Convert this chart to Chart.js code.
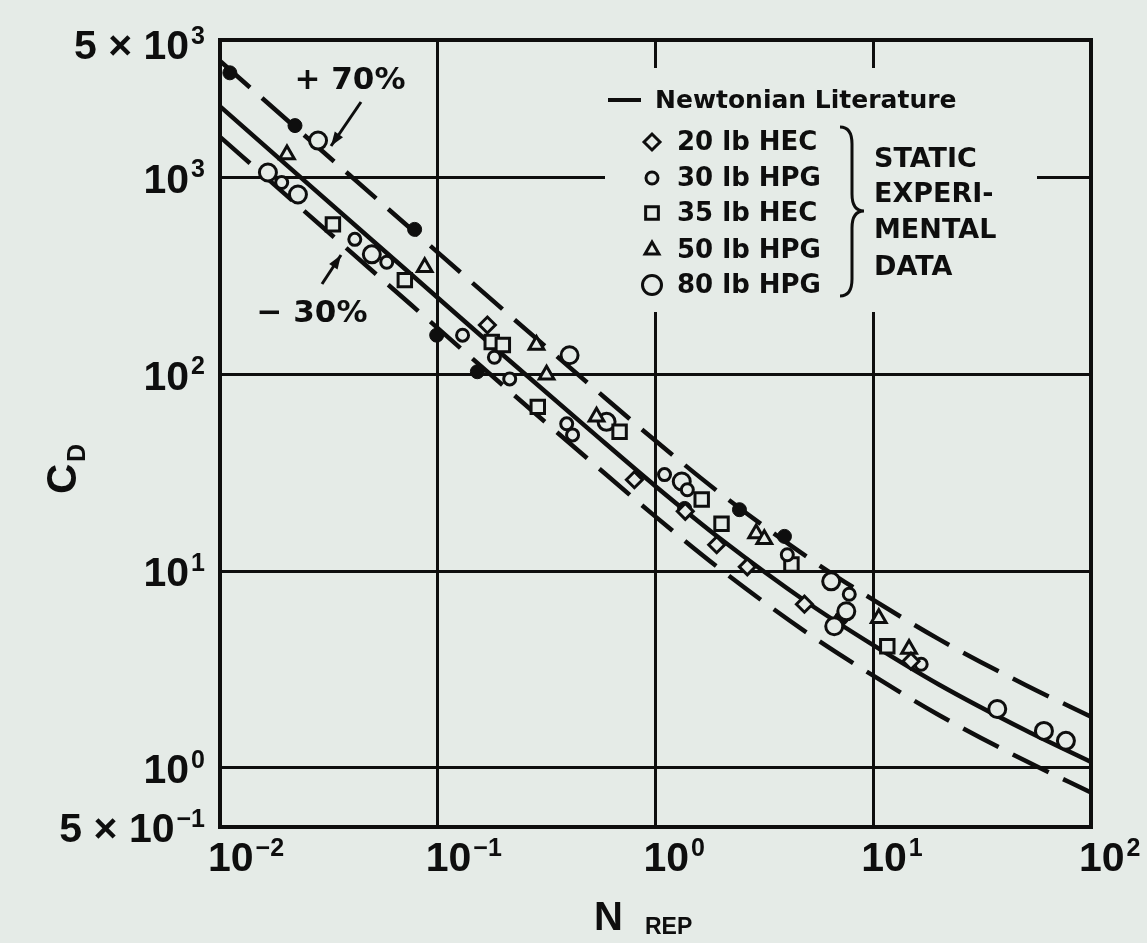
<!DOCTYPE html>
<html>
<head>
<meta charset="utf-8">
<title>C_D vs N_REP</title>
<script src="https://cdn.jsdelivr.net/npm/chart.js@4.4.1/dist/chart.umd.min.js"></script>
<style>
  html, body { margin: 0; padding: 0; background: #e5ebe7; }
  #wrap { position: relative; width: 1147px; height: 943px; }
</style>
</head>
<body>
<div id="wrap"><canvas id="cdChart"></canvas></div>
<script>
const paper = '#e5ebe7';
const ink = '#0e0e0e';

// Newtonian literature drag curve
const newtonN  = [0.01, 0.02, 0.05, 0.1, 0.2, 0.5, 1, 2, 5, 10, 20, 50, 100];
const newtonCD = [2300, 1170, 480, 245, 125, 52, 27, 14.5, 6.9, 4.2, 2.65, 1.55, 1.07];
const upperBand = 1.70;   // +70%
const lowerBand = 0.70;   // -30%

// static experimental data
const hec20N  = [0.169, 0.80, 1.37, 1.91, 2.64, 4.83, 14.9];
const hec20CD = [178, 29.1, 20.1, 13.6, 10.5, 6.78, 3.48];

const hpg30N  = [0.0192, 0.0416, 0.0583, 0.130, 0.182, 0.214, 0.391, 0.416, 1.10, 1.40, 4.03, 7.76, 16.6];
const hpg30CD = [943, 485, 371, 158, 122, 94.7, 56.0, 49.2, 30.9, 25.9, 12.1, 7.62, 3.36];

const hec35N  = [0.033, 0.0706, 0.177, 0.199, 0.288, 0.684, 1.63, 2.01, 4.21, 11.6];
const hec35CD = [578, 301, 146, 141, 68.3, 51.0, 23.1, 17.4, 10.8, 4.15];

const hpg50N  = [0.0203, 0.0871, 0.284, 0.316, 0.536, 2.90, 3.16, 10.6, 14.6];
const hpg50CD = [1309, 350, 141, 99.3, 60.8, 15.5, 14.5, 5.75, 4.01];

const hpg80N  = [0.0166, 0.0228, 0.0282, 0.0498, 0.403, 0.596, 1.32, 6.41, 6.62, 7.52, 37.1, 60.8, 76.7];
const hpg80CD = [1060, 820, 1541, 407, 125, 57.3, 28.5, 8.86, 5.24, 6.24, 1.99, 1.54, 1.37];

// solid (blacked-out) points
const filledN  = [0.0111, 0.0221, 0.0783, 0.0989, 0.152, 1.36, 2.43, 3.91, 7.13];
const filledCD = [3405, 1836, 545, 158, 103, 20.8, 20.5, 15.0, 5.75];

const seriesLabels = ['20 lb HEC', '30 lb HPG', '35 lb HEC', '50 lb HPG', '80 lb HPG'];
const seriesShapes = ['rectRot', 'circle', 'rect', 'triangle', 'circle'];
const seriesSizes  = [8, 6, 9.5, 8.5, 8.5];
const seriesData   = [[hec20N, hec20CD], [hpg30N, hpg30CD], [hec35N, hec35CD], [hpg50N, hpg50CD], [hpg80N, hpg80CD]];

const xTickValues = [0.01, 0.1, 1, 10, 100];
const xTickLabels = [['10', '\u22122'], ['10', '\u22121'], ['10', '0'], ['10', '1'], ['10', '2']];
const yTickValues = [5000, 1000, 100, 10, 1, 0.5];
const yTickLabels = [['5 \u00d7 10', '3'], ['10', '3'], ['10', '2'], ['10', '1'], ['10', '0'], ['5 \u00d7 10', '\u22121']];

const legendTitle = 'Newtonian Literature';
const bracketText = ['STATIC', 'EXPERI-', 'MENTAL', 'DATA'];

function pts(xs, ys) {
  return xs.map(function (x, i) { return { x: x, y: ys[i] }; });
}

const datasets = seriesData.map(function (d, i) {
  return {
    label: seriesLabels[i],
    data: pts(d[0], d[1]),
    showLine: false,
    pointStyle: seriesShapes[i],
    pointRadius: seriesSizes[i],
    pointBackgroundColor: paper,
    pointBorderColor: ink,
    pointBorderWidth: 3,
    order: 1
  };
});

datasets.push({
  label: 'solid points',
  data: pts(filledN, filledCD),
  showLine: false,
  pointStyle: 'circle',
  pointRadius: 7,
  pointBackgroundColor: ink,
  pointBorderColor: ink,
  pointBorderWidth: 1,
  order: 1
});

function curve(label, factor, dash) {
  return {
    label: label,
    data: pts(newtonN, newtonCD.map(function (v) { return v * factor; })),
    showLine: true,
    borderColor: ink,
    borderWidth: 4.5,
    borderDash: dash,
    cubicInterpolationMode: 'monotone',
    pointRadius: 0,
    order: 2
  };
}
datasets.push(curve(legendTitle, 1, []));
datasets.push(curve('+70%', upperBand, [40, 16]));
datasets.push(curve('-30%', lowerBand, [40, 16]));

function supLabel(ctx, base, exp, x, y, align) {
  const baseFont = 'bold 41px "Liberation Sans", Arial, sans-serif';
  const expFont = 'bold 25px "Liberation Sans", Arial, sans-serif';
  ctx.font = baseFont;
  const bw = ctx.measureText(base).width;
  ctx.font = expFont;
  const ew = ctx.measureText(exp).width;
  const left = align === 'right' ? x - bw - ew - 2 : x;
  ctx.textAlign = 'left';
  ctx.textBaseline = 'middle';
  ctx.font = baseFont;
  ctx.fillText(base, left, y);
  ctx.font = expFont;
  ctx.fillText(exp, left + bw + 2, y - 11);
}

function arrow(ctx, x1, y1, x2, y2) {
  ctx.beginPath();
  ctx.moveTo(x1, y1);
  ctx.lineTo(x2, y2);
  ctx.lineWidth = 3;
  ctx.stroke();
  const a = Math.atan2(y2 - y1, x2 - x1);
  ctx.beginPath();
  ctx.moveTo(x2, y2);
  ctx.lineTo(x2 - 14 * Math.cos(a) + 5 * Math.sin(a), y2 - 14 * Math.sin(a) - 5 * Math.cos(a));
  ctx.lineTo(x2 - 14 * Math.cos(a) - 5 * Math.sin(a), y2 - 14 * Math.sin(a) + 5 * Math.cos(a));
  ctx.closePath();
  ctx.fill();
}

const paperPlugin = {
  id: 'paper',
  beforeDraw(chart) {
    const ctx = chart.ctx;
    ctx.save();
    ctx.fillStyle = paper;
    ctx.fillRect(0, 0, chart.width, chart.height);
    ctx.restore();
  },
  afterDatasetsDraw(chart) {
    const ctx = chart.ctx;
    const area = chart.chartArea;
    ctx.save();
    ctx.strokeStyle = ink;

    // legend panel blanks the grid behind it
    ctx.fillStyle = paper;
    ctx.fillRect(605, 68, 432, 244);
    ctx.fillStyle = ink;

    ctx.beginPath();
    ctx.moveTo(608, 100);
    ctx.lineTo(641, 100);
    ctx.lineWidth = 4;
    ctx.stroke();
    ctx.font = 'bold 25px "DejaVu Sans", sans-serif';
    ctx.textAlign = 'left';
    ctx.textBaseline = 'middle';
    ctx.fillText(legendTitle, 655, 101);

    const rows = [142, 178, 213, 250, 285];
    const legendSizes = [8, 6, 9, 8, 9.5];
    seriesLabels.forEach(function (label, i) {
      ctx.fillStyle = paper;
      ctx.strokeStyle = ink;
      ctx.lineWidth = 3;
      Chart.helpers.drawPoint(ctx, {
        pointStyle: seriesShapes[i], radius: legendSizes[i], borderWidth: 3, rotation: 0
      }, 652, rows[i]);
      ctx.fillStyle = ink;
      ctx.font = 'bold 26px "DejaVu Sans", sans-serif';
      ctx.fillText(label, 677, rows[i] + 1);
    });

    // brace grouping the experimental series
    ctx.beginPath();
    ctx.moveTo(840, 127);
    ctx.quadraticCurveTo(852, 127, 852, 144);
    ctx.lineTo(852, 194);
    ctx.quadraticCurveTo(852, 211, 864, 211);
    ctx.quadraticCurveTo(852, 211, 852, 228);
    ctx.lineTo(852, 279);
    ctx.quadraticCurveTo(852, 296, 840, 296);
    ctx.lineWidth = 3;
    ctx.stroke();

    ctx.font = 'bold 27px "DejaVu Sans", sans-serif';
    const by = [160, 195, 231, 268];
    bracketText.forEach(function (t, i) { ctx.fillText(t, 874, by[i]); });

    // plot frame
    ctx.lineWidth = 4;
    ctx.strokeRect(area.left, area.top, area.right - area.left, area.bottom - area.top);
    ctx.restore();
  },
  afterDraw(chart) {
    const ctx = chart.ctx;
    const xs = chart.scales.x;
    const ys = chart.scales.y;
    ctx.save();
    ctx.fillStyle = ink;
    ctx.strokeStyle = ink;

    yTickValues.forEach(function (v, i) {
      const shift = i === 0 ? 8 : 4;
      supLabel(ctx, yTickLabels[i][0], yTickLabels[i][1], 205, ys.getPixelForValue(v) + shift, 'right');
    });
    xTickValues.forEach(function (v, i) {
      supLabel(ctx, xTickLabels[i][0], xTickLabels[i][1], xs.getPixelForValue(v) - 12, 860, 'left');
    });

    // axis titles
    ctx.textAlign = 'left';
    ctx.textBaseline = 'alphabetic';
    ctx.font = 'bold 40px "Liberation Sans", Arial, sans-serif';
    ctx.fillText('N', 594, 930);
    ctx.font = 'bold 23px "Liberation Sans", Arial, sans-serif';
    ctx.fillText('REP', 645, 934);

    ctx.save();
    ctx.translate(76, 494);
    ctx.rotate(-Math.PI / 2);
    ctx.font = 'bold 42px "Liberation Sans", Arial, sans-serif';
    ctx.fillText('C', 0, 0);
    ctx.font = 'bold 25px "Liberation Sans", Arial, sans-serif';
    ctx.fillText('D', 32, 9);
    ctx.restore();

    // band annotations
    ctx.font = 'bold 31px "DejaVu Sans", sans-serif';
    ctx.textAlign = 'center';
    ctx.textBaseline = 'middle';
    ctx.fillText('+ 70%', 350, 81);
    ctx.fillText('\u2212 30%', 312, 314);
    arrow(ctx, 361, 102, 331, 146);
    arrow(ctx, 322, 284, 341, 255);
    ctx.restore();
  }
};

function onlyTicks(values) {
  return function (scale) {
    scale.ticks = values.map(function (v) { return { value: v }; });
  };
}

new Chart('cdChart', {
  type: 'scatter',
  data: { datasets: datasets },
  options: {
    responsive: true,
    maintainAspectRatio: false,
    animation: false,
    layout: { padding: { left: 220, top: 40, right: 56, bottom: 116 } },
    plugins: {
      legend: { display: false },
      tooltip: { enabled: false }
    },
    scales: {
      x: {
        type: 'logarithmic',
        min: 0.01,
        max: 100,
        afterBuildTicks: onlyTicks(xTickValues),
        ticks: { display: false },
        grid: { color: ink, lineWidth: 3, drawTicks: false },
        border: { display: false }
      },
      y: {
        type: 'logarithmic',
        min: 0.5,
        max: 5000,
        afterBuildTicks: onlyTicks(yTickValues),
        ticks: { display: false },
        grid: { color: ink, lineWidth: 3, drawTicks: false },
        border: { display: false }
      }
    }
  },
  plugins: [paperPlugin]
});
</script>
</body>
</html>
